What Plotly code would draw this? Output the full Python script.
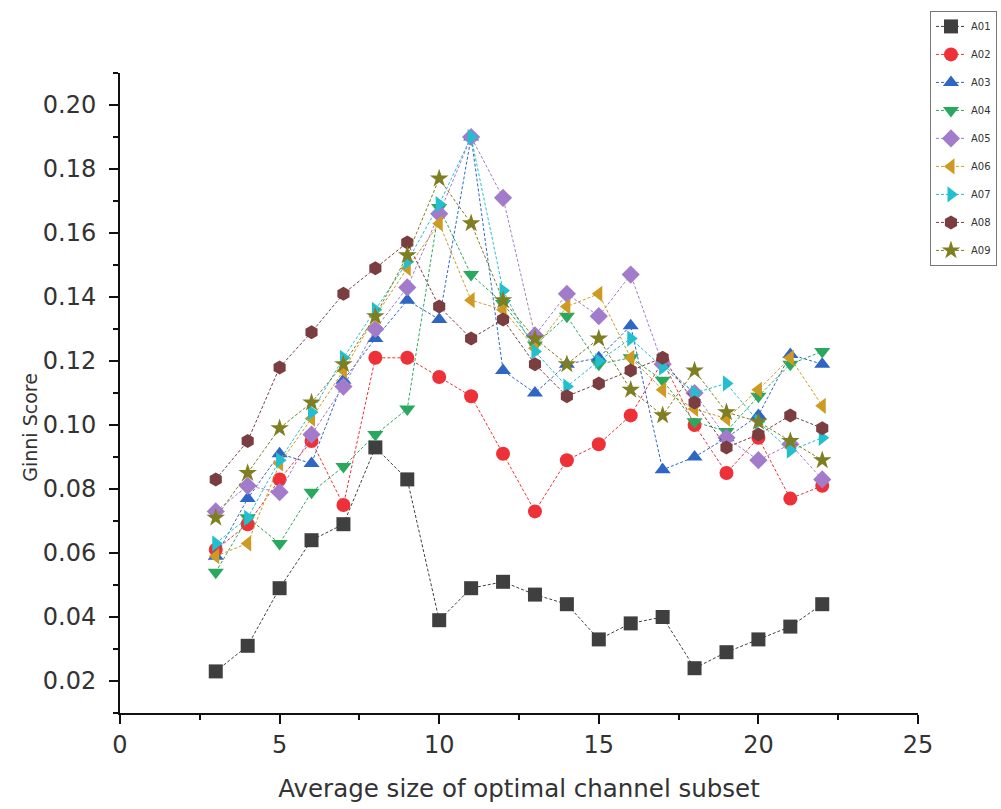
import plotly.graph_objects as go

# Channel subset sizes (x axis)
sizes = list(range(3, 23))

# Ginni scores for each subject
a01 = [0.023, 0.031, 0.049, 0.064, 0.069, 0.093, 0.083, 0.039, 0.049, 0.051,
       0.047, 0.044, 0.033, 0.038, 0.040, 0.024, 0.029, 0.033, 0.037, 0.044]
a02 = [0.061, 0.069, 0.083, 0.095, 0.075, 0.121, 0.121, 0.115, 0.109, 0.091,
       0.073, 0.089, 0.094, 0.103, 0.120, 0.100, 0.085, 0.096, 0.077, 0.081]
a03 = [0.059, 0.077, 0.091, 0.088, 0.114, 0.127, 0.139, 0.133, 0.190, 0.117,
       0.110, 0.119, 0.121, 0.131, 0.086, 0.090, 0.096, 0.103, 0.122, 0.119]
a04 = [0.054, 0.071, 0.063, 0.079, 0.087, 0.097, 0.105, 0.168, 0.147, 0.138,
       0.125, 0.134, 0.119, 0.121, 0.114, 0.101, 0.098, 0.109, 0.119, 0.123]
a05 = [0.073, 0.081, 0.079, 0.097, 0.112, 0.130, 0.143, 0.166, 0.190, 0.171,
       0.128, 0.141, 0.134, 0.147, 0.119, 0.110, 0.096, 0.089, 0.094, 0.083]
a06 = [0.059, 0.063, 0.088, 0.102, 0.117, 0.134, 0.149, 0.163, 0.139, 0.136,
       0.124, 0.137, 0.141, 0.121, 0.111, 0.105, 0.102, 0.111, 0.121, 0.106]
a07 = [0.063, 0.071, 0.089, 0.104, 0.121, 0.136, 0.151, 0.169, 0.190, 0.142,
       0.123, 0.112, 0.120, 0.127, 0.118, 0.110, 0.113, 0.101, 0.092, 0.096]
a08 = [0.083, 0.095, 0.118, 0.129, 0.141, 0.149, 0.157, 0.137, 0.127, 0.133,
       0.119, 0.109, 0.113, 0.117, 0.121, 0.107, 0.093, 0.097, 0.103, 0.099]
a09 = [0.071, 0.085, 0.099, 0.107, 0.119, 0.134, 0.153, 0.177, 0.163, 0.139,
       0.127, 0.119, 0.127, 0.111, 0.103, 0.117, 0.104, 0.101, 0.095, 0.089]

names = ["A01", "A02", "A03", "A04", "A05", "A06", "A07", "A08", "A09"]
series = [a01, a02, a03, a04, a05, a06, a07, a08, a09]
colors = ["#3f3f3f", "#ee3038", "#2f66c4", "#2aa85e", "#a27ccb",
          "#cf9a22", "#22bfcf", "#7a3e40", "#7e7e22"]
symbols = ["square", "circle", "triangle-up", "triangle-down", "diamond",
           "triangle-left", "triangle-right", "hexagon", "star"]

fig = go.Figure()
for name, vals, col, sym in zip(names, series, colors, symbols):
    fig.add_trace(go.Scatter(
        x=sizes, y=vals, name=name, legendgroup=name,
        mode="lines+markers",
        line=dict(color=col, width=1, dash="3px,2px"),
        marker=dict(symbol=sym, size=14, color=col, line=dict(width=0)),
    ))

tick_font = dict(family="DejaVu Sans, sans-serif", size=24, color="#333")
xtitle_font = dict(family="DejaVu Sans, sans-serif", size=24.5, color="#333")
ytitle_font = dict(family="DejaVu Sans, sans-serif", size=19, color="#333")

# y-axis title, placed a little below the middle of the axis
fig.add_annotation(
    text="Ginni Score", textangle=-90, font=ytitle_font,
    xref="paper", yref="paper", x=-0.113, y=0.447,
    xanchor="center", yanchor="middle", showarrow=False,
)

fig.update_layout(
    width=1001, height=809,
    margin=dict(l=120, r=83, t=73, b=96, autoexpand=False),
    paper_bgcolor="white", plot_bgcolor="white",
    font=dict(family="DejaVu Sans, sans-serif", color="#333"),
    showlegend=True,
    legend=dict(
        x=1.015, xanchor="left", y=1.097, yanchor="top",
        bordercolor="#777", borderwidth=1, bgcolor="white",
        font=dict(size=10, color="#333"),
        tracegroupgap=9, itemwidth=30,
    ),
    xaxis=dict(
        range=[0, 25], tickvals=[0, 5, 10, 15, 20, 25],
        showgrid=False, zeroline=False,
        showline=True, linecolor="#111", linewidth=2,
        ticks="outside", ticklen=9, tickwidth=2, tickcolor="#111",
        minor=dict(dtick=2.5, tick0=0, ticks="outside", ticklen=5, tickwidth=1.5, tickcolor="#111"),
        tickfont=tick_font,
        title=dict(text="Average size of optimal channel subset", font=xtitle_font, standoff=22),
    ),
    yaxis=dict(
        range=[0.01, 0.21], tickvals=[0.02, 0.04, 0.06, 0.08, 0.10, 0.12, 0.14, 0.16, 0.18, 0.20],
        tickformat=".2f",
        showgrid=False, zeroline=False,
        showline=True, linecolor="#111", linewidth=2,
        ticks="outside", ticklen=9, tickwidth=2, tickcolor="#111",
        ticklabelstandoff=8,
        minor=dict(dtick=0.01, tick0=0.0, ticks="outside", ticklen=5, tickwidth=1.5, tickcolor="#111"),
        tickfont=tick_font,
    ),
)

fig.write_html("out.html")
